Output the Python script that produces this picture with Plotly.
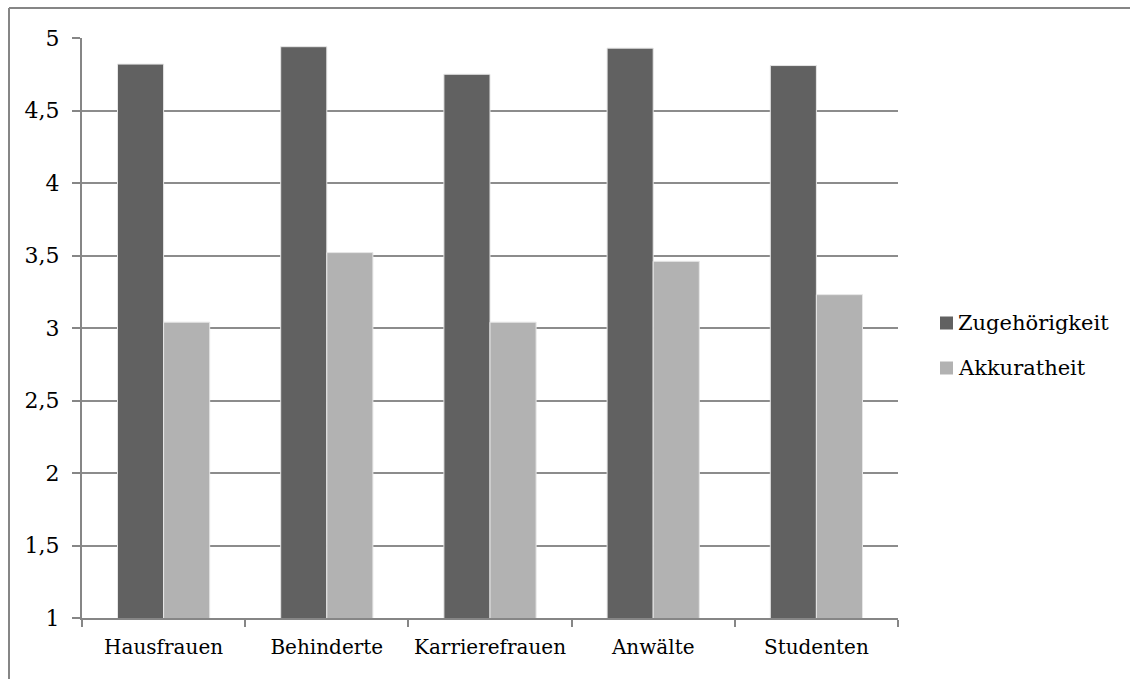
import plotly.graph_objects as go

# Kategorien und Mittelwerte
kategorien = ["Hausfrauen", "Behinderte", "Karrierefrauen", "Anwälte", "Studenten"]
zugehoerigkeit = [4.82, 4.94, 4.75, 4.93, 4.81]
akkuratheit = [3.04, 3.52, 3.04, 3.46, 3.23]

y_ticks = [1, 1.5, 2, 2.5, 3, 3.5, 4, 4.5, 5]
y_ticktext = ["1", "1,5", "2", "2,5", "3", "3,5", "4", "4,5", "5"]

serien = ["Zugehörigkeit", "Akkuratheit"]
farben = ["#616161", "#b2b2b2"]

W, H = 1130, 679
L, R, T, B = 82, 232, 38, 61
PW, PH = W - L - R, H - T - B

FONT = "DejaVu Serif"
FS = 20
AXIS = "#868686"
GRID = "#8c8c8c"


def px_x(px):
    return (px - L) / PW


def px_y(py):
    return (H - B - py) / PH


fig = go.Figure()
for name, werte, farbe in zip(serien, [zugehoerigkeit, akkuratheit], farben):
    fig.add_trace(go.Bar(
        x=kategorien, y=werte, name=name,
        marker=dict(color=farbe, line=dict(color="#e6e6e6", width=1)),
        showlegend=False,
    ))

shapes = []
annotations = []

# Legende von Hand: Quadrat + Text
for i, (name, farbe) in enumerate(zip(serien, farben)):
    cy = 323 + i * 45
    shapes.append(dict(
        type="rect", xref="paper", yref="paper",
        x0=px_x(940), x1=px_x(953), y0=px_y(cy - 6.5), y1=px_y(cy + 6.5),
        fillcolor=farbe, line=dict(width=0),
    ))
    annotations.append(dict(
        xref="paper", yref="paper", x=px_x(956), y=px_y(cy),
        xanchor="left", yanchor="middle", text=name, showarrow=False,
        font=dict(family=FONT, size=FS + 1, color="black"),
    ))

# Rahmen oben und links
shapes.append(dict(type="line", xref="paper", yref="paper",
                   x0=px_x(9), x1=px_x(W + 5), y0=px_y(8), y1=px_y(8),
                   line=dict(color=AXIS, width=2)))
shapes.append(dict(type="line", xref="paper", yref="paper",
                   x0=px_x(9), x1=px_x(9), y0=px_y(8), y1=px_y(H + 5),
                   line=dict(color=AXIS, width=2)))

fig.update_layout(
    width=W, height=H,
    margin=dict(l=L, r=R, t=T, b=B),
    paper_bgcolor="white", plot_bgcolor="white",
    barmode="group", bargap=0.435, bargroupgap=0,
    font=dict(family=FONT, size=FS, color="black"),
    shapes=shapes, annotations=annotations,
)

fig.update_xaxes(
    type="category", showline=True, linecolor=AXIS, linewidth=2,
    ticks="outside", tickson="boundaries", ticklen=7, tickcolor=AXIS, tickwidth=2,
    showgrid=False, tickfont=dict(family=FONT, size=FS, color="black"),
    tickangle=0, automargin=False, ticklabelstandoff=10,
)
fig.update_yaxes(
    range=[1, 5], tickvals=y_ticks, ticktext=y_ticktext,
    showline=True, linecolor=AXIS, linewidth=2,
    ticks="outside", ticklen=8, tickcolor=AXIS, tickwidth=2,
    showgrid=True, gridcolor=GRID, gridwidth=2, zeroline=False,
    tickfont=dict(family=FONT, size=FS + 2, color="black"),
    automargin=False, ticklabelstandoff=8,
)

fig.write_html("out.html")
